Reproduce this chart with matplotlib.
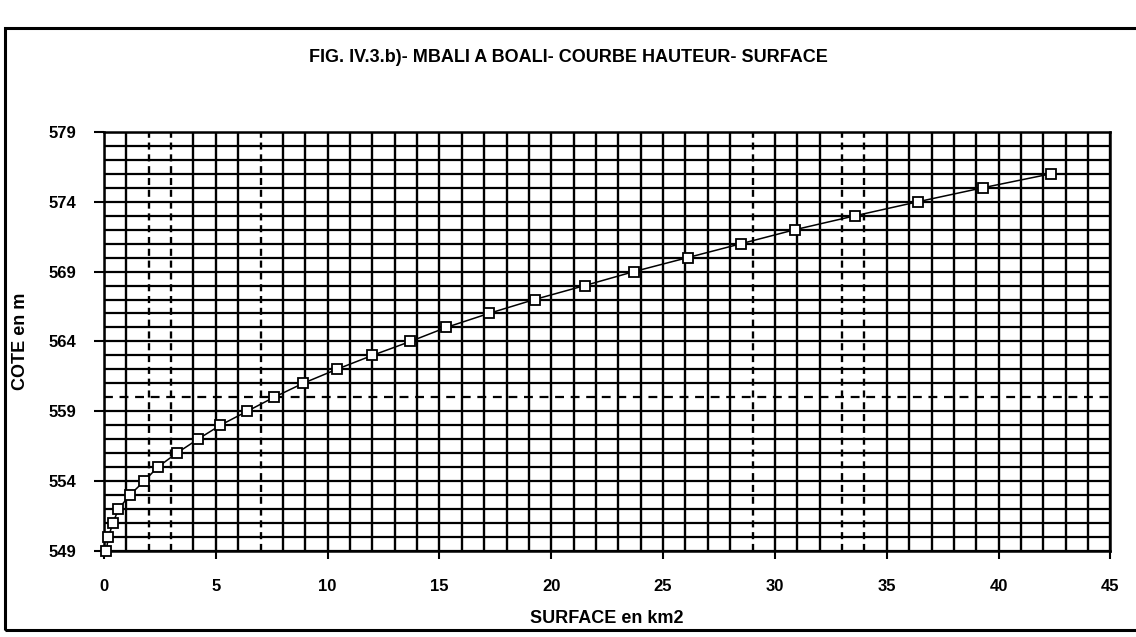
import numpy as np
import matplotlib
matplotlib.use("Agg")
import matplotlib.pyplot as plt
from matplotlib.patches import Rectangle

# cote (m) vs surface (km2)
cote = [549, 550, 551, 552, 553, 554, 555, 556, 557, 558, 559, 560, 561, 562,
        563, 564, 565, 566, 567, 568, 569, 570, 571, 572, 573, 574, 575, 576]
surface = [0.1, 0.2, 0.4, 0.65, 1.15, 1.8, 2.4, 3.25, 4.2, 5.2, 6.4, 7.6, 8.9, 10.4,
           12.0, 13.7, 15.3, 17.2, 19.25, 21.5, 23.7, 26.1, 28.5, 30.9, 33.6, 36.4, 39.3, 42.35]

x_ticks = [0, 5, 10, 15, 20, 25, 30, 35, 40, 45]
y_ticks = [549, 554, 559, 564, 569, 574, 579]

# grid lines that came out broken/dashed in the scan
dashed_x = [2, 3, 7, 29, 33, 34]
dashed_y = [560]

plt.rcParams['font.family'] = ['Liberation Sans', 'DejaVu Sans']

fig = plt.figure(figsize=(11.36, 6.37), dpi=100)
ax = fig.add_axes([0.0915, 0.135, 0.886, 0.658])

for v in range(0, 46):
    ls = (0, (3, 2)) if v in dashed_x else '-'
    ax.axvline(v, color='black', lw=1.7, ls=ls, zorder=1)
for v in range(549, 580):
    ls = (0, (4, 3)) if v in dashed_y else '-'
    ax.axhline(v, color='black', lw=1.6, ls=ls, zorder=1)

ax.plot(surface, cote, color='black', lw=1.1, marker='s', markersize=7.5,
        markerfacecolor='white', markeredgecolor='black', markeredgewidth=1.3,
        zorder=3, clip_on=False)

ax.set_xlim(0, 45)
ax.set_ylim(549, 579)
ax.set_xticks(x_ticks)
ax.set_yticks(y_ticks)
ax.set_xticklabels([str(t) for t in x_ticks], fontsize=12, fontweight='bold')
ax.set_yticklabels([str(t) for t in y_ticks], fontsize=12, fontweight='bold')
ax.tick_params(axis='x', length=6, width=1.5, pad=14)
ax.tick_params(axis='y', length=7, width=1.5, pad=13)
for s in ax.spines.values():
    s.set_linewidth(1.8)

ax.set_xlabel("SURFACE en km2", fontsize=13, fontweight='bold', labelpad=12)
ax.set_ylabel("COTE en m", fontsize=13, fontweight='bold', labelpad=14)

fig.text(0.5, 0.91, "FIG. IV.3.b)- MBALI A BOALI- COURBE HAUTEUR- SURFACE",
         ha='center', va='center', fontsize=13, fontweight='bold')

# outer frame of the scanned page
fig.patches.append(Rectangle((5 / 1136, 7 / 637), 1.05, 602 / 637,
                             transform=fig.transFigure, fill=False,
                             edgecolor='black', lw=2.2, clip_on=False))

fig.savefig("out.png", dpi=100)
